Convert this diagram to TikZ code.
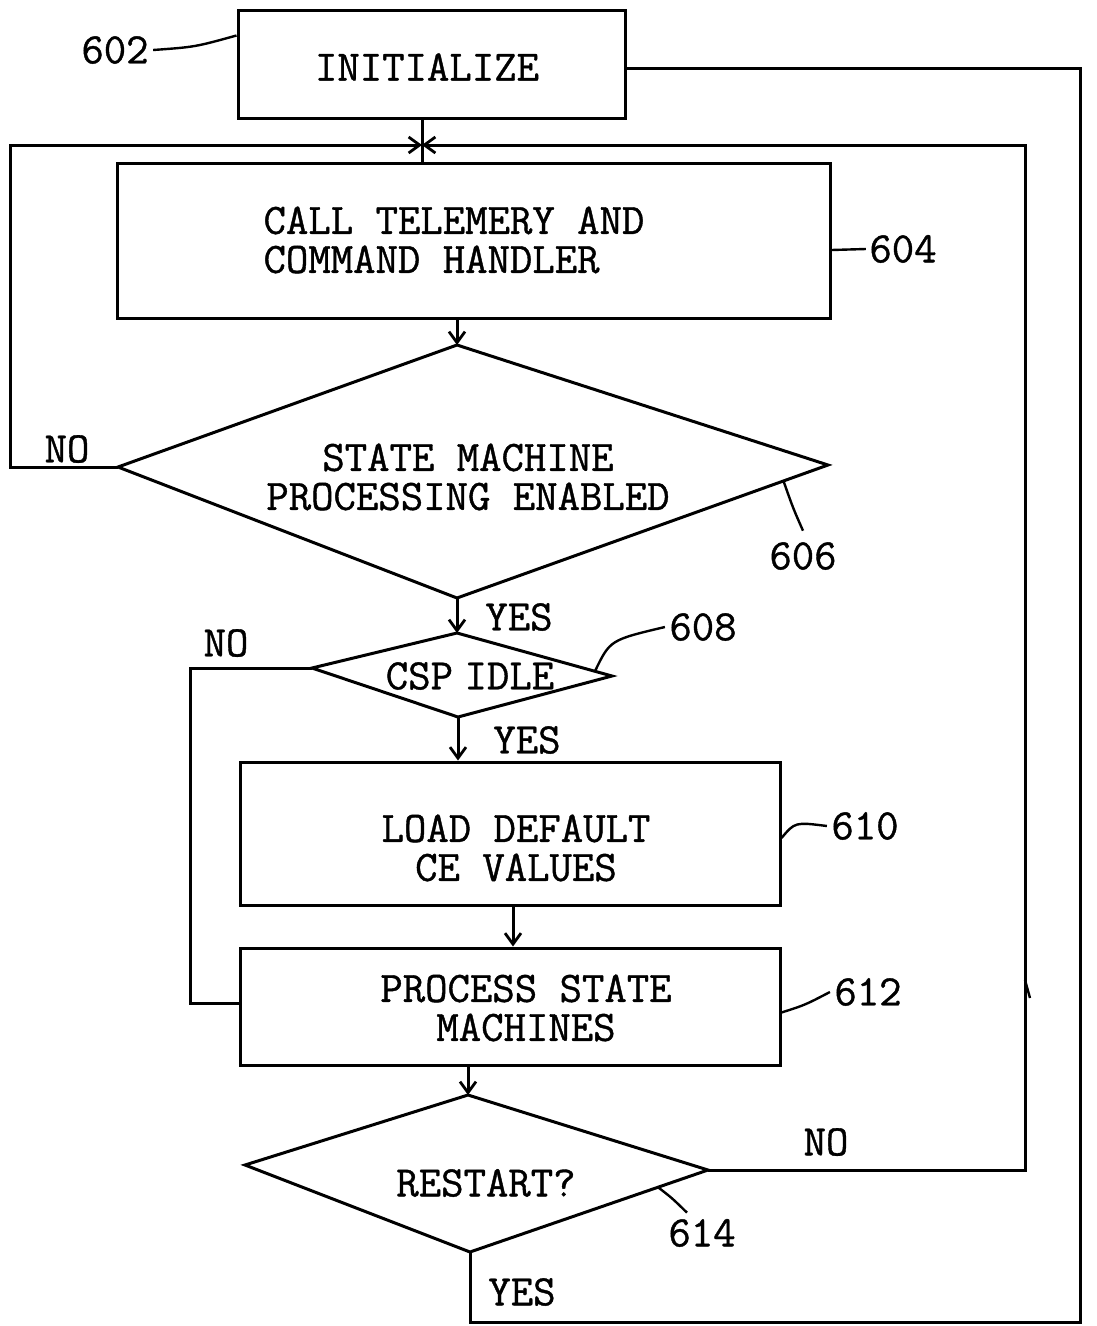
\documentclass[tikz,border=0pt]{standalone}
\usepackage{fontspec}
\newfontfamily\tyfont{Latin Modern Mono}[FakeBold=0.9]
\usetikzlibrary{arrows.meta,calc}
\begin{document}
\begin{tikzpicture}[x=1pt,y=-1pt,line width=3pt,
  box/.style={draw,inner sep=0pt,line width=3pt},
  txt/.style={font=\fontsize{43.5}{39}\selectfont\tyfont,inner sep=0pt,align=center},
  arr/.style={-{Straight Barb[length=11pt,width=16pt,line width=2.8pt]}},
  lead/.style={line width=2.4pt}]
\useasboundingbox (0,0) rectangle (1097,1326);
% boxes
\node[box,minimum width=387,minimum height=108] (init) at (431.5,64) {};
\node[txt] (tinit) at (427,67) {INITIALIZE};
\node[box,minimum width=713,minimum height=155] (call) at (473.5,240.5) {};
\node[txt,align=left] (tcall) at (454,240) {CALL TELEMERY AND\\COMMAND HANDLER};
\node[box,minimum width=540,minimum height=143] (load) at (510,833.5) {};
\node[txt] (tload) at (516,848) {LOAD DEFAULT\\CE VALUES};
\node[box,minimum width=540,minimum height=117] (proc) at (510,1006.5) {};
\node[txt] (tproc) at (526,1008) {PROCESS STATE\\MACHINES};
% diamond 606
\coordinate (a1) at (457,345); \coordinate (a2) at (828,465);
\coordinate (a3) at (457,598); \coordinate (a4) at (118,467);
\draw (a1) -- (a2) -- (a3) -- (a4) -- cycle;
\node[txt] (ta) at (468,477) {STATE MACHINE\\PROCESSING ENABLED};
% diamond 608
\coordinate (b1) at (457,633); \coordinate (b2) at (612,676);
\coordinate (b3) at (458,717); \coordinate (b4) at (312,668);
\draw (b1) -- (b2) -- (b3) -- (b4) -- cycle;
\node[txt] (tb) at (470,676) {CSP\hspace{-0.25em} IDLE};
% diamond 614
\coordinate (c1) at (468,1095); \coordinate (c2) at (708,1170);
\coordinate (c3) at (470,1252); \coordinate (c4) at (245,1165);
\draw (c1) -- (c2) -- (c3) -- (c4) -- cycle;
\node[txt] (tc) at (486,1183) {RESTART?};
% junction and loop coordinates
\coordinate (j) at (422,145);
\coordinate (l2) at (10,145);
\coordinate (r2) at (1025,145);
\coordinate (l3) at (190,1003);
\coordinate (r3) at (1080,1322);
\coordinate (r4) at (1025,980);
% connectors
\draw (init.south -| j) -- (call.north -| j);
\draw[arr] (a4) -| (l2) -- (j);
\draw[arr] (c2) -| (r2) -- (j);
\draw[arr] (call.south -| a1) -- (a1);
\draw[arr] (a3) -- (b1);
\draw[arr] (b3) -- (load.north -| b3);
\draw[arr] ([xshift=3pt]load.south) -- ([xshift=3pt]proc.north);
\draw[arr] (proc.south -| c1) -- (c1);
\draw (b4) -| (l3) -- (proc.west |- l3);
\draw (c3) |- (r3) |- ([yshift=-4pt]init.east);
\draw[lead] (r4) -- ++(5,18);
% branch labels
\node[txt] (no1) at (67,449) {NO};
\node[txt] (yes1) at (519,617) {YES};
\node[txt] (no2) at (226,643) {NO};
\node[txt] (yes2) at (527,740) {YES};
\node[txt] (no3) at (826,1142) {NO};
\node[txt] (yes3) at (522,1292) {YES};
% reference numerals
\node[txt] (n602) at (115,50) {602};
\node[txt] (n604) at (903,249) {604};
\node[txt] (n606) at (803,556) {606};
\node[txt] (n608) at (703,627) {608};
\node[txt] (n610) at (865,826) {610};
\node[txt] (n612) at (868,992) {612};
\node[txt] (n614) at (702,1233) {614};
\draw[lead] ([xshift=3pt]n602.east) .. controls (195,47) .. ([yshift=-27pt]init.north west);
\draw[lead] ([yshift=-9.5pt]call.east) -- ([xshift=-2pt]n604.west);
\draw[lead] ($(a2)!0.12!(a3)$) .. controls (793,508) .. ([yshift=10pt]n606.north);
\draw[lead] ($(b1)!0.89!(b2)$) .. controls (610,640) .. ([xshift=-3pt]n608.west);
\draw[lead] ([yshift=-4.5pt]load.east) .. controls (795,822) .. ([xshift=-3pt]n610.west);
\draw[lead] ([yshift=-6pt]proc.east) .. controls (805,1005) .. ([xshift=-3pt]n612.west);
\draw[lead] ($(c2)!0.21!(c3)$) .. controls (672,1198) .. ([yshift=5pt,xshift=-15pt]n614.north);
\end{tikzpicture}
\end{document}
